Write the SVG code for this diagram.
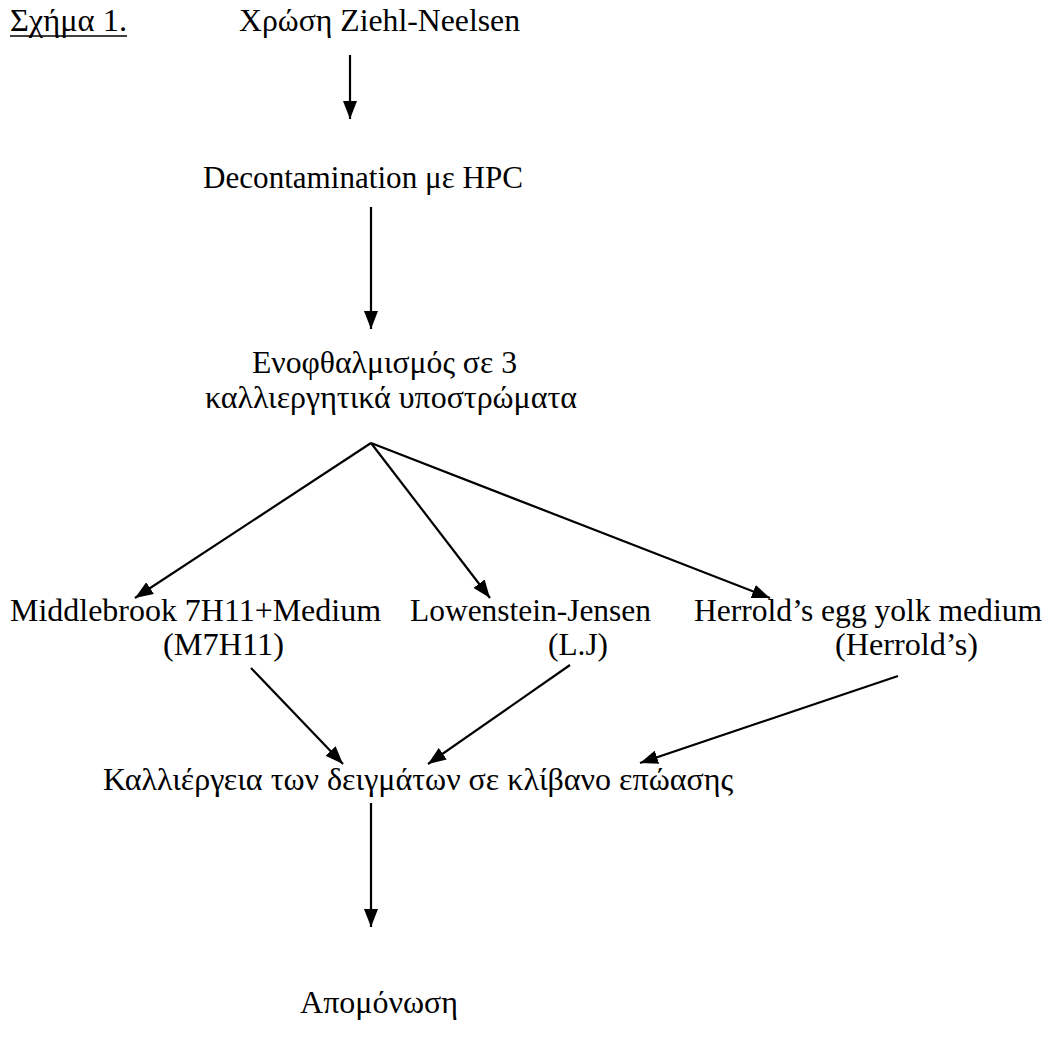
<svg xmlns="http://www.w3.org/2000/svg" width="1052" height="1041" viewBox="0 0 1052 1041">
<defs>
<style>
text{font-family:"Liberation Serif","Times New Roman",serif;font-size:32px;fill:#000}
.c{text-anchor:middle}
.e{text-anchor:end}
.ln{stroke:#000;stroke-width:2.2;fill:none}
</style>
<marker id="ah" viewBox="0 0 18 14" refX="18" refY="7" markerWidth="18" markerHeight="14" markerUnits="userSpaceOnUse" orient="auto">
<path d="M0,0 L18,7 L0,14 Z" fill="#000"/>
</marker>
</defs>
<rect width="1052" height="1041" fill="#fff"/>
<g id="caption">
<text x="10" y="31" textLength="117" lengthAdjust="spacingAndGlyphs">Σχήμα 1.</text>
<line x1="10" y1="36" x2="127" y2="36" stroke="#000" stroke-width="1.4"/>
</g>
<g id="n1"><text x="239" y="31" textLength="281" lengthAdjust="spacingAndGlyphs">Χρώση Ziehl-Neelsen</text></g>
<g id="n2"><text x="203" y="188" textLength="320" lengthAdjust="spacingAndGlyphs">Decontamination με HPC</text></g>
<g id="n3"><text x="252" y="373" textLength="265" lengthAdjust="spacingAndGlyphs">Ενοφθαλμισμός σε 3</text><text x="205" y="408" textLength="372" lengthAdjust="spacingAndGlyphs">καλλιεργητικά υποστρώματα</text></g>
<g id="n4"><text x="10" y="621" textLength="371" lengthAdjust="spacingAndGlyphs">Middlebrook 7H11+Medium</text><text x="163" y="655" textLength="121" lengthAdjust="spacingAndGlyphs">(M7H11)</text></g>
<g id="n5"><text x="410" y="621" textLength="241" lengthAdjust="spacingAndGlyphs">Lowenstein-Jensen</text><text x="548" y="655" textLength="60" lengthAdjust="spacingAndGlyphs">(L.J)</text></g>
<g id="n6"><text x="694" y="621" textLength="348" lengthAdjust="spacingAndGlyphs">Herrold’s egg yolk medium</text><text x="835" y="655" textLength="143" lengthAdjust="spacingAndGlyphs">(Herrold’s)</text></g>
<g id="n7"><text class="c" x="418" y="790">Καλλιέργεια των δειγμάτων σε κλίβανο επώασης</text></g>
<g id="n8"><text class="c" x="379" y="1013">Απομόνωση</text></g>
<g id="connectors">
<line class="ln" x1="350" y1="55" x2="350" y2="119" marker-end="url(#ah)"/>
<line class="ln" x1="371" y1="207" x2="371" y2="329" marker-end="url(#ah)"/>
<line class="ln" x1="371" y1="443" x2="135" y2="598" marker-end="url(#ah)"/>
<line class="ln" x1="371" y1="443" x2="490" y2="598" marker-end="url(#ah)"/>
<line class="ln" x1="371" y1="443" x2="770" y2="598" marker-end="url(#ah)"/>
<line class="ln" x1="251" y1="668" x2="343" y2="764" marker-end="url(#ah)"/>
<line class="ln" x1="570" y1="665" x2="428" y2="764" marker-end="url(#ah)"/>
<line class="ln" x1="898" y1="676" x2="640" y2="763" marker-end="url(#ah)"/>
<line class="ln" x1="371" y1="803" x2="371" y2="927" marker-end="url(#ah)"/>
</g>
</svg>
